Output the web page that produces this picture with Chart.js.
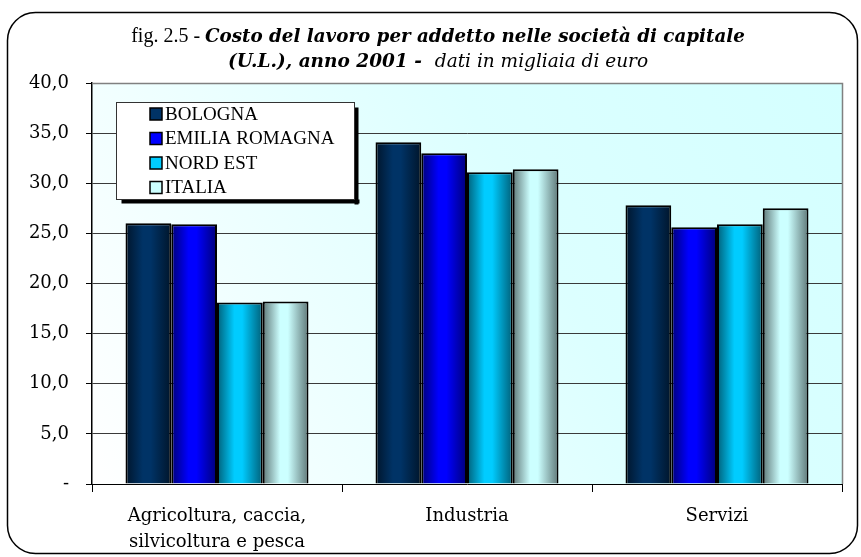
<!DOCTYPE html>
<html>
<head>
<meta charset="utf-8">
<script src="https://cdn.jsdelivr.net/npm/chart.js@4/dist/chart.umd.min.js"></script>
<style>
  body { margin: 0; background: #fff; }
  #ChartCanvas { display: block; }
</style>
</head>
<body>
<canvas id="ChartCanvas" width="861" height="557"></canvas>
<script>
// data
const categories = [['Agricoltura, caccia,', 'silvicoltura e pesca'], 'Industria', 'Servizi'];
const seriesNames = ['BOLOGNA', 'EMILIA ROMAGNA', 'NORD EST', 'ITALIA'];
const bologna = [26.0, 34.1, 27.8];
const emiliaRomagna = [25.9, 33.0, 25.6];
const nordEst = [18.1, 31.1, 25.9];
const italia = [18.2, 31.4, 27.5];
const yTickLabels = ['-', '5,0', '10,0', '15,0', '20,0', '25,0', '30,0', '35,0', '40,0'];

// cylinder shading: [edge, center] per series
const shades = [
    ['#00152b', '#003366'],
    ['#000078', '#0000ff'],
    ['#005f78', '#00ccff'],
    ['#5f7878', '#ccffff']
];

Initialize();

function Initialize()
{
    const ctx = document.getElementById('ChartCanvas').getContext('2d');
    const values = [bologna, emiliaRomagna, nordEst, italia];

    // Frame, title and plot background
    const backgroundPlugin = {
        id: 'backgroundPlugin',
        beforeDraw(chart) {
            const c = chart.ctx;
            const a = chart.chartArea;
            c.save();
            c.fillStyle = '#fff';
            c.fillRect(0, 0, chart.width, chart.height);

            // rounded frame
            c.beginPath();
            c.roundRect(7.5, 12.5, 850, 541, 28);
            c.lineWidth = 1.5;
            c.strokeStyle = '#000';
            c.stroke();

            // plot background gradient
            const g = c.createLinearGradient(a.left, a.bottom, a.right, a.top);
            g.addColorStop(0, '#ffffff');
            g.addColorStop(0.6, '#dcffff');
            g.addColorStop(1, '#d4ffff');
            c.fillStyle = g;
            c.fillRect(a.left, a.top, a.right - a.left, a.bottom - a.top);

            // title
            const cx = 438;
            drawRuns(c, cx, 37, [
                ['20px "Liberation Serif"', 'fig. 2.5 - '],
                ['italic bold 18.3px "DejaVu Serif"', 'Costo del lavoro per addetto nelle società di capitale']
            ]);
            drawRuns(c, cx, 62, [
                ['italic bold 18.5px "DejaVu Serif"', '(U.L.), anno 2001 -  '],
                ['italic 18.5px "DejaVu Serif"', 'dati in migliaia di euro']
            ]);
            c.restore();
        },
        beforeDatasetsDraw(chart) {
            const c = chart.ctx;
            const a = chart.chartArea;
            // plot border
            c.save();
            c.strokeStyle = '#808080';
            c.lineWidth = 1.5;
            c.beginPath();
            c.moveTo(a.left, a.top + 0.5);
            c.lineTo(a.right + 0.5, a.top + 0.5);
            c.lineTo(a.right + 0.5, a.bottom);
            c.stroke();
            c.restore();

            // horizontal gradient fill for every bar
            chart.data.datasets.forEach((ds, i) => {
                const meta = chart.getDatasetMeta(i);
                meta.data.forEach(el => {
                    const x0 = el.x - el.width / 2;
                    const x1 = el.x + el.width / 2;
                    const g = c.createLinearGradient(x0, 0, x1, 0);
                    g.addColorStop(0, shades[i][0]);
                    g.addColorStop(0.38, shades[i][1]);
                    g.addColorStop(0.55, shades[i][1]);
                    g.addColorStop(1, shades[i][0]);
                    el.options = Object.assign({}, el.options, { backgroundColor: g });
                });
            });
        },
        afterDatasetsDraw(chart) {
            const c = chart.ctx;
            const bx = 116.5, by = 102.5, bw = 238, bh = 97;
            c.save();
            // shadow
            c.fillStyle = '#000';
            c.fillRect(bx + 5, by + bh, bw, 4);
            c.fillRect(bx + bw, by + 5, 4, bh);
            c.fillStyle = '#fff';
            c.fillRect(bx, by, bw, bh);
            c.strokeStyle = '#333';
            c.lineWidth = 1;
            c.strokeRect(bx, by, bw, bh);

            c.font = '19px "Liberation Serif"';
            c.textBaseline = 'middle';
            chart.data.datasets.forEach((ds, i) => {
                const y = 114 + i * 24.5;
                c.fillStyle = shades[i][1];
                c.fillRect(150, y - 6, 12, 12);
                c.strokeStyle = '#000';
                c.lineWidth = 1.5;
                c.strokeRect(150, y - 6, 12, 12);
                c.fillStyle = '#000';
                c.fillText(ds.label, 165, y + 1);
            });
            c.restore();
        }
    };

    function drawRuns(c, cx, y, runs) {
        let total = 0;
        runs.forEach(r => { c.font = r[0]; total += c.measureText(r[1]).width; });
        let x = cx - total / 2;
        c.fillStyle = '#000';
        c.textBaseline = 'middle';
        c.textAlign = 'left';
        runs.forEach(r => {
            c.font = r[0];
            c.fillText(r[1], x, y);
            x += c.measureText(r[1]).width;
        });
    }

    new Chart(ctx, {
        type: 'bar',
        data: {
            labels: categories,
            datasets: seriesNames.map((name, i) => ({
                label: name,
                data: values[i],
                backgroundColor: shades[i][1],
                borderColor: '#000',
                borderWidth: 2,
                categoryPercentage: 0.732,
                barPercentage: 1.0
            }))
        },
        options: {
            responsive: false,
            animation: false,
            devicePixelRatio: 1,
            layout: { padding: { top: 83, right: 19, left: 0, bottom: 0 } },
            plugins: {
                legend: { display: false },
                tooltip: { enabled: false }
            },
            scales: {
                x: {
                    afterFit: s => { s.height = 73; },
                    grid: {
                        display: true,
                        drawOnChartArea: false,
                        offset: true,
                        tickLength: 8,
                        color: '#000'
                    },
                    border: { color: '#000', width: 1 },
                    ticks: {
                        color: '#000',
                        padding: 11,
                        font: { family: 'DejaVu Serif', size: 18, lineHeight: 1.45 }
                    }
                },
                y: {
                    min: 0,
                    max: 40,
                    afterFit: s => { s.width = 92; },
                    grid: {
                        color: ctx => ctx.index === 0 ? 'rgba(0,0,0,0)' : '#3a3a3a',
                        tickColor: '#000',
                        tickLength: 6,
                        lineWidth: 1
                    },
                    border: { color: '#000', width: 1.5 },
                    ticks: {
                        stepSize: 5,
                        color: '#000',
                        padding: 17,
                        font: { family: 'DejaVu Serif', size: 18 },
                        callback: (v, i) => yTickLabels[i]
                    }
                }
            }
        },
        plugins: [backgroundPlugin]
    });
}
</script>
</body>
</html>
